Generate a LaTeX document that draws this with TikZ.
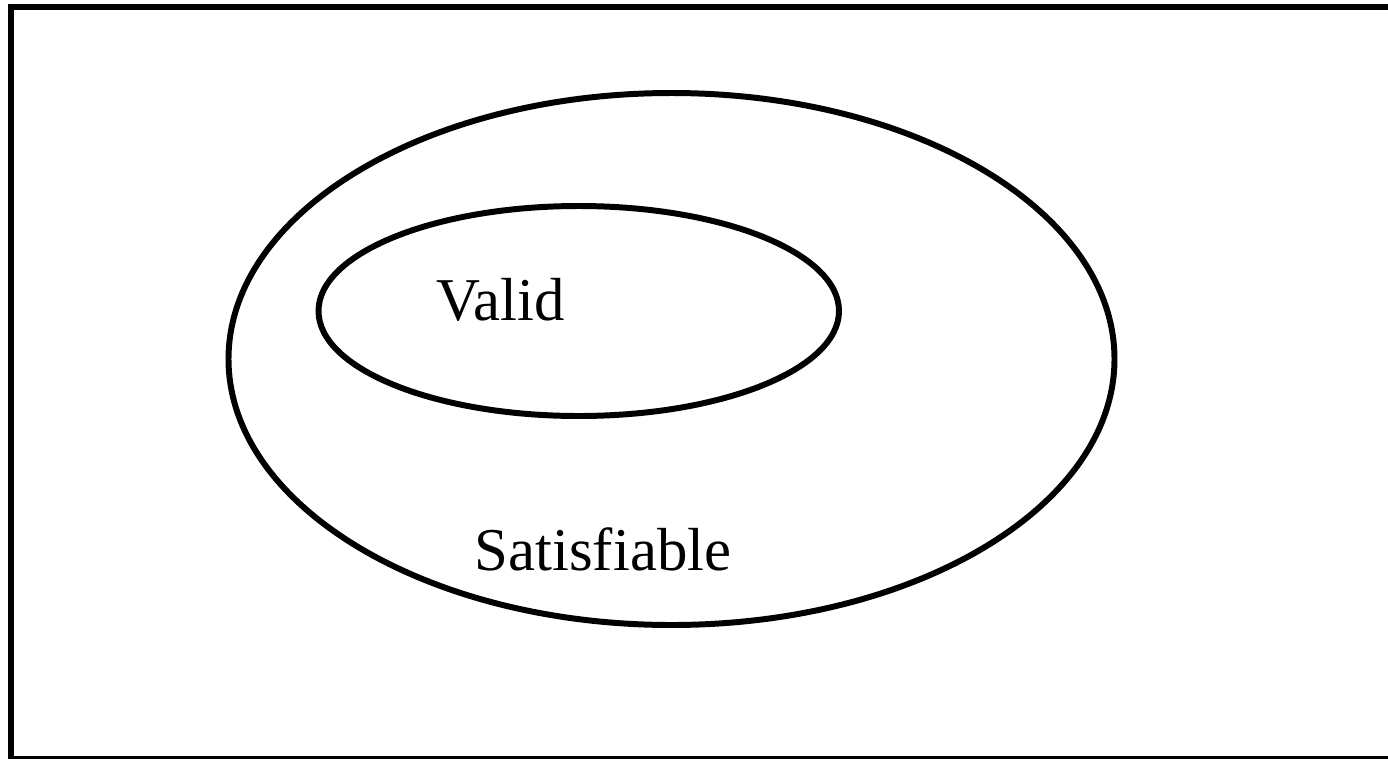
\documentclass[tikz,border=0pt]{standalone}
\usepackage{fontspec}
\setmainfont{Liberation Serif}
\usetikzlibrary{shapes.geometric}

\begin{document}
\begin{tikzpicture}[
    set/.style={ellipse, draw, line width=1.7pt, inner sep=0pt},
    label/.style={anchor=base, inner sep=0pt, font=\fontsize{17.3pt}{20pt}\selectfont},
    frame/.style={draw, line width=1.7pt}
]

    \useasboundingbox (0,0) rectangle (13.88,7.58);

    % Outer frame
    \draw[frame] (0.11,-0.01) rectangle (13.91,7.51);

    % Satisfiable set (outer)
    \node[set, minimum width=8.86cm, minimum height=5.32cm] (sat) at (6.715,3.99) {};

    % Valid set (inner)
    \node[set, minimum width=5.205cm, minimum height=2.10cm] (valid) at (5.7875,4.47) {};

    % Set labels
    \node[label] (validtext) at (5.005,4.38) {Valid};
    \node[label] (sattext) at (6.03,1.88) {Satisfiable};

\end{tikzpicture}
\end{document}
